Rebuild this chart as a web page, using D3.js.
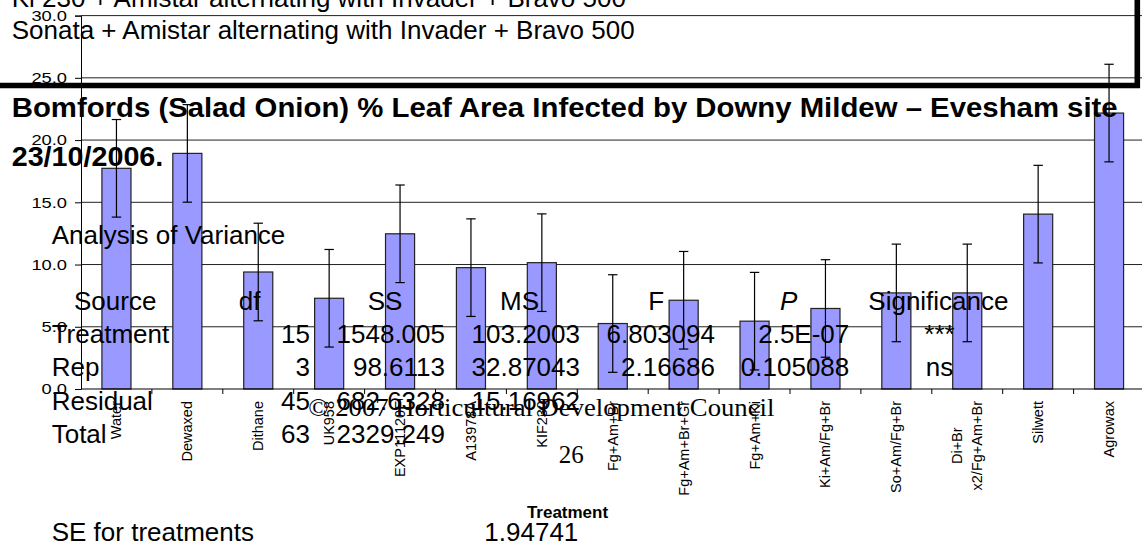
<!DOCTYPE html>
<html>
<head>
<meta charset="utf-8">
<script src="https://cdn.jsdelivr.net/npm/d3@7"></script>
<style>
  body { margin: 0; background: #fff; }
  svg { display: block; overflow: hidden; }
</style>
</head>
<body>
<svg id="page" width="1142" height="542"></svg>
<script>
// treatments and % leaf area infected
const treatments = [
    "Water", "Dewaxed", "Dithane", "UK958", "EXP11120F", "A13978A", "KIF230",
    "Fg+Am+Br", "Fg+Am+Br+Gr", "Fg+Am+Ki", "Ki+Am/Fg+Br", "So+Am/Fg+Br",
    "Di+Br\nx2/Fg+Am+Br", "Silwett", "Agrowax"
];
const infected = [17.73, 18.93, 9.40, 7.29, 12.47, 9.75, 10.15, 5.26, 7.13, 5.45, 6.47, 7.72, 7.72, 14.05, 22.17];
const errHalf = 3.92;
const yTicks = [0, 5, 10, 15, 20, 25, 30];

// analysis of variance table
const anovaHeader = ["Source", "df", "SS", "MS", "F", "P", "Significance"];
const anovaSource = ["Treatment", "Rep", "Residual", "Total"];
const anovaDf = ["15", "3", "45", "63"];
const anovaSS = ["1548.005", "98.6113", "682.6328", "2329.249"];
const anovaMS = ["103.2003", "32.87043", "15.16962", ""];
const anovaF = ["6.803094", "2.16686", "", ""];
const anovaP = ["2.5E-07", "0.105088", "", ""];
const anovaSig = ["***", "ns", "", ""];

const svg = d3.select("#page");
const sans = "'Liberation Sans', Arial, sans-serif";
const serif = "'Liberation Serif', 'Times New Roman', serif";

// ---- chart ----
const plotLeft = 81, plotRight = 1144.5, plotTop = 15.6, plotBottom = 389;
const x = d3.scaleBand().domain(treatments).range([plotLeft, plotRight]).padding(0);
const y = d3.scaleLinear().domain([0, 30]).range([plotBottom, plotTop]);
const barW = x.bandwidth() * 0.41;

const chart = svg.append("g");

chart.append("g")
    .selectAll("line")
    .data(yTicks.slice(1))
    .join("line")
    .attr("x1", plotLeft).attr("x2", plotRight)
    .attr("y1", d => y(d)).attr("y2", d => y(d))
    .attr("stroke", "#222").attr("stroke-width", 1);

const yAxis = chart.append("g")
    .attr("transform", `translate(${plotLeft},0)`)
    .call(d3.axisLeft(y).tickValues(yTicks).tickSize(6).tickPadding(8).tickFormat(d3.format(".1f")));
yAxis.select(".domain").attr("stroke", "#000");
yAxis.selectAll(".tick line").attr("stroke", "#000");
yAxis.selectAll("text")
    .attr("font-family", sans).attr("font-size", 15).attr("fill", "#000")
    .each(function() {
        const w = this.getComputedTextLength();
        this.setAttribute("textLength", w * 1.22);
        this.setAttribute("lengthAdjust", "spacingAndGlyphs");
    });

chart.append("g")
    .selectAll("rect")
    .data(treatments)
    .join("rect")
    .attr("x", d => x(d) + (x.bandwidth() - barW) / 2)
    .attr("width", barW)
    .attr("y", (d, i) => y(infected[i]))
    .attr("height", (d, i) => plotBottom - y(infected[i]))
    .attr("fill", "#9999ff")
    .attr("stroke", "#222")
    .attr("stroke-width", 1.2);

const err = chart.append("g").attr("stroke", "#000").attr("stroke-width", 1.2);
treatments.forEach((t, i) => {
    const cx = x(t) + x.bandwidth() / 2;
    const hi = y(infected[i] + errHalf), lo = y(infected[i] - errHalf);
    err.append("line").attr("x1", cx).attr("x2", cx).attr("y1", hi).attr("y2", lo);
    err.append("line").attr("x1", cx - 4.7).attr("x2", cx + 4.7).attr("y1", hi).attr("y2", hi);
    err.append("line").attr("x1", cx - 4.7).attr("x2", cx + 4.7).attr("y1", lo).attr("y2", lo);
});

// x axis line and ticks between categories
chart.append("line")
    .attr("x1", plotLeft).attr("x2", plotRight).attr("y1", plotBottom).attr("y2", plotBottom)
    .attr("stroke", "#000").attr("stroke-width", 1.2);
chart.append("g")
    .selectAll("line")
    .data(treatments.slice(1))
    .join("line")
    .attr("x1", d => x(d)).attr("x2", d => x(d))
    .attr("y1", plotBottom).attr("y2", plotBottom + 5)
    .attr("stroke", "#000");

// rotated category labels, lines centred within the block
treatments.forEach(t => {
    const lines = t.split("\n");
    const g = chart.append("g")
        .attr("transform", `translate(${x(t) + x.bandwidth() / 2},401) rotate(-90)`);
    const texts = lines.map((line, k) => g.append("text")
        .attr("font-family", sans).attr("font-size", 14.5)
        .attr("y", (k - (lines.length - 1) / 2) * 20 + 5)
        .attr("text-anchor", "middle")
        .text(line));
    const maxLen = d3.max(texts, s => s.node().getComputedTextLength());
    texts.forEach(s => s.attr("x", -maxLen / 2));
});

chart.append("text")
    .attr("x", 567.5).attr("y", 517.5)
    .attr("text-anchor", "middle")
    .attr("font-family", sans).attr("font-size", 17).attr("font-weight", "bold")
    .text("Treatment");

// ---- page text ----
function txt(s, px, py, opts = {}) {
    const t = svg.append("text")
        .attr("x", px).attr("y", py)
        .attr("font-family", opts.family || sans)
        .attr("font-size", opts.size || 26)
        .attr("font-weight", opts.bold ? "bold" : null)
        .attr("font-style", opts.italic ? "italic" : null)
        .attr("text-anchor", opts.anchor || "start")
        .attr("fill", "#000")
        .text(s);
    if (opts.width) {
        t.attr("textLength", opts.width).attr("lengthAdjust", "spacingAndGlyphs");
    }
    return t;
}

txt("Ki 230 + Amistar alternating with Invader + Bravo 500", 11.7, 6.8);
txt("Sonata + Amistar alternating with Invader + Bravo 500", 11.7, 39.3);

svg.append("path")
    .attr("d", "M0,85.5 H1137.3 V-5")
    .attr("fill", "none").attr("stroke", "#000").attr("stroke-width", 5.6);

txt("Bomfords (Salad Onion) % Leaf Area Infected by Downy Mildew \u2013 Evesham site", 11.7, 116.7, { size: 28.5, bold: true, width: 1106 });
txt("23/10/2006.", 11.7, 166, { size: 28.5, bold: true, width: 151.6 });

txt("Analysis of Variance", 51.7, 244.3);

const headerX = [74, 238.7, 367.7, 500, 648.3, 780, 868.3];
anovaHeader.forEach((h, i) => txt(h, headerX[i], 310, { italic: h === "P" }));

const rowY = [342.7, 376, 409.7, 443.3];
anovaSource.forEach((s, r) => {
    txt(s, 51.7, rowY[r]);
    txt(anovaDf[r], 310, rowY[r], { anchor: "end" });
    txt(anovaSS[r], 445, rowY[r], { anchor: "end" });
    txt(anovaMS[r], 580, rowY[r], { anchor: "end" });
    txt(anovaF[r], 715, rowY[r], { anchor: "end" });
    txt(anovaP[r], 849.3, rowY[r], { anchor: "end" });
    txt(anovaSig[r], 939.5, rowY[r], { anchor: "middle" });
});

txt("SE for treatments", 51.7, 541);
txt("1.94741", 578.3, 541, { anchor: "end" });

txt("\u00a9 2007 Horticultural Development Council", 308.3, 416, { family: serif, size: 25, width: 466 });
txt("26", 571.2, 463.3, { family: serif, size: 25, anchor: "middle" });
</script>
</body>
</html>
